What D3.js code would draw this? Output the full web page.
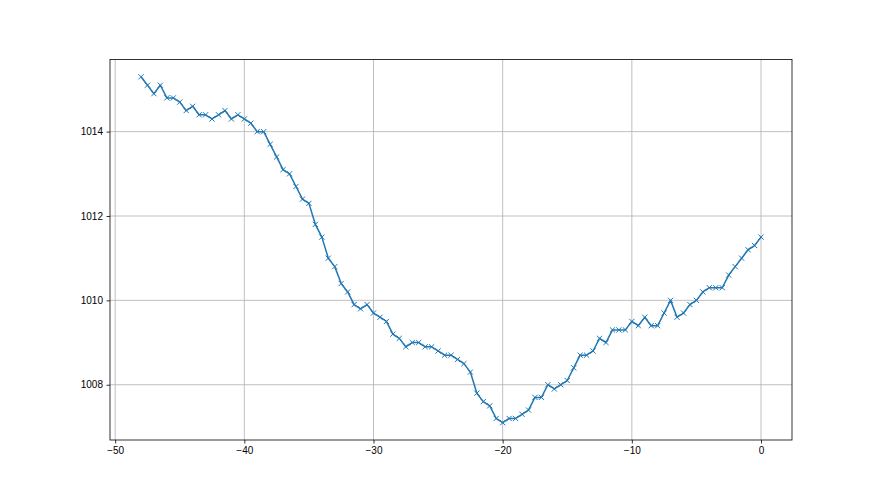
<!DOCTYPE html>
<html>
<head>
<meta charset="utf-8">
<script src="https://cdn.jsdelivr.net/npm/d3@7"></script>
<style>
  body { margin: 0; background: #fff; }
  svg { font-family: "DejaVu Sans", sans-serif; }
  .tick text { font-size: 10px; fill: #000; }
</style>
</head>
<body>
<svg id="chart" width="880" height="495"></svg>
<script>
const hours = [
  -48, -47.5, -47, -46.5, -46, -45.5, -45, -44.5, -44, -43.5,
  -43, -42.5, -42, -41.5, -41, -40.5, -40, -39.5, -39, -38.5,
  -38, -37.5, -37, -36.5, -36, -35.5, -35, -34.5, -34, -33.5,
  -33, -32.5, -32, -31.5, -31, -30.5, -30, -29.5, -29, -28.5,
  -28, -27.5, -27, -26.5, -26, -25.5, -25, -24.5, -24, -23.5,
  -23, -22.5, -22, -21.5, -21, -20.5, -20, -19.5, -19, -18.5,
  -18, -17.5, -17, -16.5, -16, -15.5, -15, -14.5, -14, -13.5,
  -13, -12.5, -12, -11.5, -11, -10.5, -10, -9.5, -9, -8.5,
  -8, -7.5, -7, -6.5, -6, -5.5, -5, -4.5, -4, -3.5,
  -3, -2.5, -2, -1.5, -1, -0.5, 0
];

const pressure = [
  1015.3, 1015.1, 1014.9, 1015.1, 1014.8, 1014.8, 1014.7, 1014.5, 1014.6, 1014.4,
  1014.4, 1014.3, 1014.4, 1014.5, 1014.3, 1014.4, 1014.3, 1014.2, 1014.0, 1014.0,
  1013.7, 1013.4, 1013.1, 1013.0, 1012.7, 1012.4, 1012.3, 1011.8, 1011.5, 1011.0,
  1010.8, 1010.4, 1010.2, 1009.9, 1009.8, 1009.9, 1009.7, 1009.6, 1009.5, 1009.2,
  1009.1, 1008.9, 1009.0, 1009.0, 1008.9, 1008.9, 1008.8, 1008.7, 1008.7, 1008.6,
  1008.5, 1008.3, 1007.8, 1007.6, 1007.5, 1007.2, 1007.1, 1007.2, 1007.2, 1007.3,
  1007.4, 1007.7, 1007.7, 1008.0, 1007.9, 1008.0, 1008.1, 1008.4, 1008.7, 1008.7,
  1008.8, 1009.1, 1009.0, 1009.3, 1009.3, 1009.3, 1009.5, 1009.4, 1009.6, 1009.4,
  1009.4, 1009.7, 1010.0, 1009.6, 1009.7, 1009.9, 1010.0, 1010.2, 1010.3, 1010.3,
  1010.3, 1010.6, 1010.8, 1011.0, 1011.2, 1011.3, 1011.5
];

const xTicks = [-50, -40, -30, -20, -10, 0];
const yTicks = [1008, 1010, 1012, 1014];

const data = hours.map((h, i) => ({ x: h, y: pressure[i] }));

const svg = d3.select("#chart");
const margin = { top: 59.5, right: 88, bottom: 55, left: 110 };
const width = +svg.attr("width");
const height = +svg.attr("height");
const innerWidth = width - margin.left - margin.right;
const innerHeight = height - margin.top - margin.bottom;

const g = svg.append("g")
  .attr("transform", `translate(${margin.left},${margin.top})`);

// matplotlib style 5% padding around the data
const xMin = d3.min(hours), xMax = d3.max(hours);
const yMin = d3.min(pressure), yMax = d3.max(pressure);
const xPad = (xMax - xMin) * 0.05;
const yPad = (yMax - yMin) * 0.05;

const x = d3.scaleLinear()
  .domain([xMin - xPad, xMax + xPad])
  .range([0, innerWidth]);

const y = d3.scaleLinear()
  .domain([yMin - yPad, yMax + yPad])
  .range([innerHeight, 0]);

const fmt = d => String(d).replace("-", "\u2212");

// grid
g.append("g")
  .selectAll("line")
  .data(xTicks)
  .enter()
  .append("line")
  .attr("x1", d => x(d)).attr("x2", d => x(d))
  .attr("y1", 0).attr("y2", innerHeight)
  .attr("stroke", "#b0b0b0")
  .attr("stroke-width", 0.8);

g.append("g")
  .selectAll("line")
  .data(yTicks)
  .enter()
  .append("line")
  .attr("x1", 0).attr("x2", innerWidth)
  .attr("y1", d => y(d)).attr("y2", d => y(d))
  .attr("stroke", "#b0b0b0")
  .attr("stroke-width", 0.8);

// line
const line = d3.line()
  .x(d => x(d.x))
  .y(d => y(d.y));

g.append("path")
  .datum(data)
  .attr("fill", "none")
  .attr("stroke", "#1f77b4")
  .attr("stroke-width", 1.5)
  .attr("stroke-linejoin", "round")
  .attr("d", line);

// x markers
const m = 2.6;
g.selectAll(".marker")
  .data(data)
  .enter()
  .append("path")
  .attr("class", "marker")
  .attr("transform", d => `translate(${x(d.x)},${y(d.y)})`)
  .attr("d", `M${-m},${-m}L${m},${m}M${-m},${m}L${m},${-m}`)
  .attr("stroke", "#1f77b4")
  .attr("stroke-width", 1)
  .attr("fill", "none");

// axes
const xAxis = g.append("g")
  .attr("transform", `translate(0,${innerHeight})`)
  .call(d3.axisBottom(x).tickValues(xTicks).tickFormat(fmt).tickSize(3.5).tickPadding(3.5));

const yAxis = g.append("g")
  .call(d3.axisLeft(y).tickValues(yTicks).tickFormat(fmt).tickSize(3.5).tickPadding(3.5));

[xAxis, yAxis].forEach(a => {
  a.select(".domain").remove();
  a.selectAll(".tick line").attr("stroke", "#000").attr("stroke-width", 0.8);
});

// frame
g.append("rect")
  .attr("x", 0).attr("y", 0)
  .attr("width", innerWidth).attr("height", innerHeight)
  .attr("fill", "none")
  .attr("stroke", "#000")
  .attr("stroke-width", 0.8);
</script>
</body>
</html>
